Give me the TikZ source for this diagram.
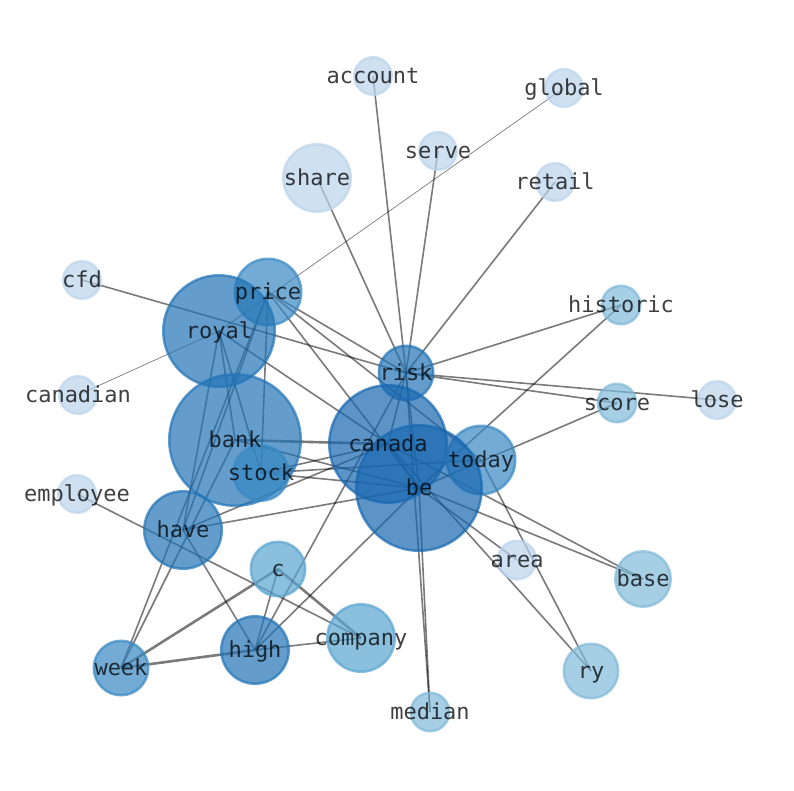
\documentclass[tikz,border=0pt]{standalone}
\usepackage{fontspec}
\setmonofont{DejaVu Sans Mono}
\usetikzlibrary{backgrounds}

\definecolor{blueA}{RGB}{186,211,234}
\definecolor{blueB}{RGB}{128,185,216}
\definecolor{blueC}{RGB}{89,164,208}
\definecolor{blueD}{RGB}{56,136,195}
\definecolor{blueE}{RGB}{34,116,182}
\definecolor{blueF}{RGB}{24,103,175}

\begin{document}
\begin{tikzpicture}[x=1pt,y=-1pt,every edge/.style={draw=black,draw opacity=0.52,line width=1.6pt}]
  \tikzstyle{word}=[circle,inner sep=0pt,fill opacity=0.7,draw opacity=0.7,line width=2.5pt]
  \tikzstyle{wA}=[word,fill=blueA,draw=blueA]
  \tikzstyle{wB}=[word,fill=blueB,draw=blueB]
  \tikzstyle{wC}=[word,fill=blueC,draw=blueC]
  \tikzstyle{wD}=[word,fill=blueD,draw=blueD]
  \tikzstyle{wE}=[word,fill=blueE,draw=blueE]
  \tikzstyle{wF}=[word,fill=blueF,draw=blueF]
  \tikzstyle{lbl}=[font=\ttfamily\fontsize{22}{26}\selectfont,text=black,text opacity=0.75,inner sep=0pt,yshift=-2.5pt]
  \tikzstyle{heavy}=[line width=2.6pt]
  \tikzstyle{faint}=[line width=0.7pt]

  \useasboundingbox (0,0) rectangle (794,790);

  % words
  \node[wA,minimum size=37.5pt] (account)  at (373,76)  {};
  \node[wA,minimum size=37.5pt] (global)   at (564,88)  {};
  \node[wA,minimum size=37.5pt] (serve)    at (438,151) {};
  \node[wA,minimum size=67.5pt] (share)    at (317,178) {};
  \node[wA,minimum size=37.5pt] (retail)   at (555,182) {};
  \node[wA,minimum size=37.5pt] (cfd)      at (82,280)  {};
  \node[wD,minimum size=66.5pt] (price)    at (268,292) {};
  \node[wE,minimum size=111.5pt] (royal)   at (219,331) {};
  \node[wB,minimum size=38.5pt] (historic) at (621,305) {};
  \node[wE,minimum size=54.5pt] (risk)     at (406,373) {};
  \node[wA,minimum size=37.5pt] (canadian) at (78,395)  {};
  \node[wB,minimum size=38.5pt] (score)    at (617,403) {};
  \node[wA,minimum size=37.5pt] (lose)     at (717,400) {};
  \node[wE,minimum size=131.5pt] (bank)    at (235,440) {};
  \node[wF,minimum size=117.5pt] (canada)  at (388,444) {};
  \node[wD,minimum size=68.5pt] (today)    at (481,460) {};
  \node[wD,minimum size=55.5pt] (stock)    at (261,473) {};
  \node[wF,minimum size=125.5pt] (be)      at (419,488) {};
  \node[wA,minimum size=37.5pt] (employee) at (77,494)  {};
  \node[wE,minimum size=77.5pt] (have)     at (183,530) {};
  \node[wA,minimum size=38.5pt] (area)     at (517,560) {};
  \node[wB,minimum size=55.5pt] (base)     at (643,579) {};
  \node[wC,minimum size=54.5pt] (c)        at (278,569) {};
  \node[wC,minimum size=67.5pt] (company)  at (361,638) {};
  \node[wD,minimum size=54.5pt] (week)     at (121,668) {};
  \node[wE,minimum size=67.5pt] (high)     at (255,650) {};
  \node[wB,minimum size=54.5pt] (ry)       at (591,671) {};
  \node[wB,minimum size=38.5pt] (median)   at (430,712) {};

  % links, under the words
  \begin{scope}[on background layer]
  \path (risk.center) edge (account.center)
                      edge (serve.center)
                      edge (share.center)
                      edge (retail.center)
                      edge (historic.center)
                      edge (score.center)
                      edge (lose.center)
                      edge (cfd.center)
                      edge (high.center)
                      edge (median.center)
                      edge (canada.center)
                      edge (be.center)
                      edge (price.center)
        (royal.center) edge [faint] (canadian.center)
                       edge [faint] (global.center)
                       edge (have.center)
                       edge (stock.center)
                       edge (bank.center)
                       edge (canada.center)
        (price.center) edge (stock.center)
                       edge (have.center)
                       edge (today.center)
                       edge (be.center)
                       edge (week.center)
        (bank.center) edge [heavy] (canada.center)
                      edge (be.center)
                      edge (week.center)
        (stock.center) edge (canada.center)
                       edge (be.center)
                       edge (today.center)
        (have.center) edge (canada.center)
                      edge (be.center)
                      edge (high.center)
        (employee.center) edge (company.center)
        (c.center) edge [heavy] (week.center)
                   edge (high.center)
                   edge [heavy] (company.center)
        (high.center) edge [heavy] (week.center)
                      edge (company.center)
                      edge (be.center)
        (canada.center) edge (ry.center)
                        edge (base.center)
                        edge (be.center)
        (be.center) edge (base.center)
                    edge (area.center)
                    edge (median.center)
                    edge (score.center)
                    edge (historic.center)
        (today.center) edge (ry.center);
  \end{scope}

  % labels on top
  \foreach \w in {account,global,serve,share,retail,cfd,price,royal,historic,risk,
                  canadian,score,lose,bank,canada,today,stock,be,employee,have,
                  area,base,c,company,week,high,ry,median}
    \node[lbl] at (\w.center) {\strut\w};
\end{tikzpicture}
\end{document}
